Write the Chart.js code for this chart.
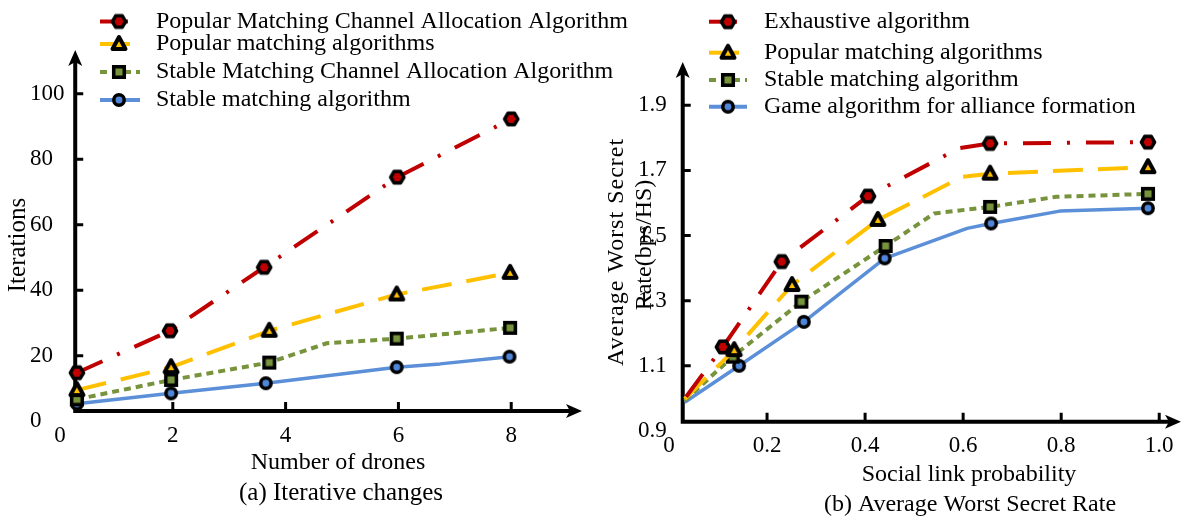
<!DOCTYPE html>
<html>
<head>
<meta charset="utf-8">
<script src="https://cdn.jsdelivr.net/npm/chart.js@4.4.1/dist/chart.umd.min.js"></script>
<style>
  html, body { margin: 0; padding: 0; background: #fff; }
  #wrap { position: relative; width: 1191px; height: 517px; overflow: hidden; background: #fff; }
  #chartA { position: absolute; left: 0; top: 0; }
  #chartB { position: absolute; left: 600px; top: 0; }
</style>
</head>
<body>
<div id="wrap">
  <canvas id="chartA" width="660" height="517" style="width:660px;height:517px"></canvas>
  <canvas id="chartB" width="591" height="517" style="width:591px;height:517px"></canvas>
</div>
<script>
// ---------- (a) Iterative changes: iterations vs number of drones ----------
const namesA = [
  'Popular Matching Channel Allocation Algorithm',
  'Popular matching algorithms',
  'Stable Matching Channel Allocation Algorithm',
  'Stable matching algorithm'
];
const dronesTicks = [0, 2, 4, 6, 8];
const dronesTickLabels = ['0', '2', '4', '6', '8'];
const iterTicks = [0, 20, 40, 60, 80, 100];
const iterTickLabels = ['0', '20', '40', '60', '80', '100'];

const pmcaDrones = [0.3, 1.95, 3.62, 5.98, 8.0];
const pmcaIter   = [14.8, 27.6, 47.0, 74.5, 92.3];
const pmcaShown  = [1, 1, 1, 1, 1];

const pmDrones = [0.3, 1.97, 3.71, 5.97, 7.98];
const pmIter   = [9.5, 16.5, 27.6, 38.7, 45.3];
const pmShown  = [1, 1, 1, 1, 1];

const smcaDrones = [0.3, 1.97, 3.71, 4.73, 5.97, 7.98];
const smcaIter   = [6.7, 12.6, 17.9, 23.8, 25.2, 28.5];
const smcaShown  = [1, 1, 1, 0, 1, 1];

const smDrones = [0.3, 1.97, 3.65, 5.97, 6.74, 7.97];
const smIter   = [5.3, 8.5, 11.6, 16.5, 17.5, 19.7];
const smShown  = [1, 1, 1, 1, 0, 1];

// ---------- (b) Average worst secret rate vs social link probability ----------
const namesB = [
  'Exhaustive algorithm',
  'Popular matching algorithms',
  'Stable matching algorithm',
  'Game algorithm for alliance formation'
];
const probTicks = [0, 0.2, 0.4, 0.6, 0.8, 1.0];
const probTickLabels = ['0', '0.2', '0.4', '0.6', '0.8', '1.0'];
const rateTicks = [0.9, 1.1, 1.3, 1.5, 1.7, 1.9];
const rateTickLabels = ['0.9', '1.1', '1.3', '1.5', '1.7', '1.9'];

const exProb  = [0.035, 0.11, 0.23, 0.406, 0.591, 0.655, 0.977];
const exRate  = [1.005, 1.158, 1.42, 1.621, 1.768, 1.783, 1.787];
const exShown = [0, 1, 1, 1, 0, 1, 1];

const popProb  = [0.032, 0.133, 0.251, 0.426, 0.598, 0.655, 0.977];
const popRate  = [0.998, 1.148, 1.348, 1.548, 1.68, 1.69, 1.71];
const popShown = [0, 1, 1, 1, 0, 1, 1];

const stProb  = [0.032, 0.13, 0.27, 0.442, 0.541, 0.655, 0.79, 0.977];
const stRate  = [0.993, 1.128, 1.297, 1.468, 1.568, 1.588, 1.619, 1.628];
const stShown = [0, 1, 1, 1, 0, 1, 0, 1];

const gameProb  = [0.032, 0.143, 0.275, 0.44, 0.608, 0.657, 0.797, 0.977];
const gameRate  = [0.988, 1.1, 1.235, 1.43, 1.522, 1.537, 1.575, 1.584];
const gameShown = [0, 1, 1, 1, 0, 1, 0, 1];

// ---------- styling ----------
const SERIF = '"Liberation Serif", "Times New Roman", serif';
const TICK_SIZE = 23;
const RED = '#C00000', YELLOW = '#FFC000', GREEN = '#77933C', BLUE = '#5B8FD8';
const DASH_RED = [28, 16, 3, 16], DASH_YELLOW = [30, 15], DASH_GREEN = [7, 5];

function makeMarker(shape, fill) {
  const c = document.createElement('canvas');
  c.width = 24; c.height = 24;
  const g = c.getContext('2d');
  g.translate(12, 12);
  g.strokeStyle = '#000';
  g.fillStyle = fill;
  g.lineWidth = 3.5;
  g.lineJoin = 'round';
  g.beginPath();
  if (shape === 'hex') {
    for (let i = 0; i < 6; i++) {
      const a = Math.PI / 3 * i;
      g.lineTo(6.6 * Math.cos(a), 6.6 * Math.sin(a));
    }
    g.closePath();
  } else if (shape === 'tri') {
    g.lineWidth = 4;
    g.moveTo(0, -7); g.lineTo(6.5, 5); g.lineTo(-6.5, 5); g.closePath();
  } else if (shape === 'sq') {
    g.lineJoin = 'miter';
    g.rect(-5.3, -5.3, 10.6, 10.6);
  } else {
    g.arc(0, 0, 5.2, 0, Math.PI * 2);
  }
  g.fill();
  g.stroke();
  return c;
}
const mkHex = makeMarker('hex', RED);
const mkTri = makeMarker('tri', YELLOW);
const mkSq = makeMarker('sq', GREEN);
const mkCirc = makeMarker('circ', '#4F86D9');

function pts(xs, ys) { return xs.map((x, i) => ({ x: x, y: ys[i] })); }

function series(label, xs, ys, shown, color, dash, marker, width) {
  return {
    label: label,
    data: pts(xs, ys),
    borderColor: color,
    backgroundColor: color,
    borderWidth: width || 4,
    borderDash: dash,
    borderCapStyle: 'butt',
    borderJoinStyle: 'round',
    pointStyle: marker,
    pointRadius: shown.map(s => (s ? 6 : 0)),
    pointHoverRadius: 0,
    pointHitRadius: 0,
    tension: 0,
    fill: false,
    clip: false
  };
}

// axis lines with arrowheads and inward tick marks, crossing at given values
function axesPlugin(cross) {
  return {
    id: 'arrowAxes',
    beforeDatasetsDraw(chart) {
      const { ctx, chartArea: a, scales: { x, y } } = chart;
      const ox = x.getPixelForValue(cross.x);
      const oy = y.getPixelForValue(cross.y);
      ctx.save();
      ctx.strokeStyle = '#000';
      ctx.fillStyle = '#000';
      ctx.lineWidth = 4;
      ctx.beginPath();
      ctx.moveTo(ox, oy + 2); ctx.lineTo(ox, a.top + 12);
      ctx.moveTo(ox - 2, oy); ctx.lineTo(a.right - 12, oy);
      ctx.stroke();
      ctx.beginPath();
      ctx.moveTo(ox, a.top); ctx.lineTo(ox - 7, a.top + 16); ctx.lineTo(ox, a.top + 12); ctx.lineTo(ox + 7, a.top + 16);
      ctx.closePath(); ctx.fill();
      ctx.beginPath();
      ctx.moveTo(a.right, oy); ctx.lineTo(a.right - 16, oy - 7); ctx.lineTo(a.right - 12, oy); ctx.lineTo(a.right - 16, oy + 7);
      ctx.closePath(); ctx.fill();
      ctx.lineWidth = 3;
      ctx.beginPath();
      x.ticks.forEach(t => {
        if (t.value <= cross.x) return;
        const px = x.getPixelForValue(t.value);
        ctx.moveTo(px, oy); ctx.lineTo(px, oy - 9);
      });
      y.ticks.forEach(t => {
        if (t.value <= cross.y) return;
        const py = y.getPixelForValue(t.value);
        ctx.moveTo(ox, py); ctx.lineTo(ox + 8, py);
      });
      ctx.stroke();
      ctx.restore();
    }
  };
}

// value-axis labels, legend rows (line sample + marker + name) and axis titles
function textPlugin(spec) {
  return {
    id: 'labelsAndLegend',
    afterDraw(chart) {
      const ctx = chart.ctx;
      const y = chart.scales.y;
      ctx.save();
      ctx.fillStyle = '#000';
      ctx.textBaseline = 'middle';
      ctx.textAlign = 'left';
      ctx.font = TICK_SIZE + 'px ' + SERIF;
      y.ticks.forEach((t, i) => {
        ctx.fillText(spec.yLabels[i], spec.yLabelX, y.getPixelForValue(t.value));
      });
      chart.data.datasets.forEach((ds, i) => {
        const ry = spec.legend.rows[i];
        ctx.save();
        ctx.strokeStyle = ds.borderColor;
        ctx.lineWidth = 4;
        ctx.setLineDash(ds.borderDash || []);
        ctx.beginPath();
        ctx.moveTo(spec.legend.x1, ry); ctx.lineTo(spec.legend.x2, ry);
        ctx.stroke();
        ctx.restore();
        const m = ds.pointStyle;
        ctx.drawImage(m, spec.legend.mx - m.width / 2, ry - m.height / 2);
        ctx.font = '24px ' + SERIF;
        ctx.textAlign = 'left';
        ctx.fillText(ds.label, spec.legend.tx, ry);
      });
      spec.titles.forEach(t => {
        ctx.save();
        ctx.font = t.size + 'px ' + SERIF;
        if (t.spacing) ctx.letterSpacing = t.spacing + 'px';
        ctx.textAlign = 'center';
        ctx.translate(t.x, t.y);
        if (t.rot) ctx.rotate(-Math.PI / 2);
        ctx.fillText(t.text, 0, 0);
        ctx.restore();
      });
      ctx.restore();
    }
  };
}

function scaleX(min, max, ticks, labels) {
  return {
    type: 'linear', min: min, max: max,
    border: { display: false },
    grid: { display: false, drawTicks: false },
    afterBuildTicks: s => { s.ticks = ticks.map(v => ({ value: v })); },
    afterFit: s => { s.height = 30; },
    ticks: {
      color: '#000', font: { family: SERIF, size: TICK_SIZE }, padding: 1,
      autoSkip: false, maxRotation: 0, minRotation: 0, includeBounds: false,
      callback: (v, i) => labels[i]
    }
  };
}
function scaleY(min, max, ticks) {
  return {
    type: 'linear', min: min, max: max,
    border: { display: false },
    grid: { display: false, drawTicks: false },
    afterBuildTicks: s => { s.ticks = ticks.map(v => ({ value: v })); },
    afterFit: s => { s.width = 30; },
    ticks: { display: false }
  };
}

const common = {
  responsive: false,
  animation: false,
  events: [],
  plugins: { legend: { display: false }, tooltip: { enabled: false }, title: { display: false } }
};

new Chart(document.getElementById('chartA'), {
  type: 'line',
  data: {
    datasets: [
      series(namesA[0], pmcaDrones, pmcaIter, pmcaShown, RED, DASH_RED, mkHex),
      series(namesA[1], pmDrones, pmIter, pmShown, YELLOW, DASH_YELLOW, mkTri),
      series(namesA[2], smcaDrones, smcaIter, smcaShown, GREEN, DASH_GREEN, mkSq),
      series(namesA[3], smDrones, smIter, smShown, BLUE, [], mkCirc, 3.5)
    ]
  },
  options: Object.assign({}, common, {
    layout: { padding: { left: 30, right: 78, top: 50, bottom: 65.8 } },
    scales: {
      x: scaleX(0, 9.255, dronesTicks, dronesTickLabels),
      y: scaleY(0, 113.33, iterTicks)
    }
  }),
  plugins: [
    axesPlugin({ x: 0.27, y: 3.1 }),
    textPlugin({
      yLabels: iterTickLabels, yLabelX: 30,
      legend: { rows: [21.5, 44, 72, 100], x1: 100, x2: 140, mx: 119, tx: 156 },
      titles: [
        { text: 'Iterations', x: 18, y: 245, size: 25, rot: true },
        { text: 'Number of drones', x: 338, y: 463, size: 24 },
        { text: '(a) Iterative changes', x: 341, y: 493, size: 25 }
      ]
    })
  ]
});

new Chart(document.getElementById('chartB'), {
  type: 'line',
  data: {
    datasets: [
      series(namesB[0], exProb, exRate, exShown, RED, DASH_RED, mkHex),
      series(namesB[1], popProb, popRate, popShown, YELLOW, DASH_YELLOW, mkTri),
      series(namesB[2], stProb, stRate, stShown, GREEN, DASH_GREEN, mkSq),
      series(namesB[3], gameProb, gameRate, gameShown, BLUE, [], mkCirc, 3.5)
    ]
  },
  options: Object.assign({}, common, {
    layout: { padding: { left: 39, right: 5, top: 62, bottom: 56.1 } },
    scales: {
      x: scaleX(0, 1.0444, probTicks, probTickLabels),
      y: scaleY(0.9, 2.033, rateTicks)
    }
  }),
  plugins: [
    axesPlugin({ x: 0.028, y: 0.928 }),
    textPlugin({
      yLabels: rateTickLabels, yLabelX: 38,
      legend: { rows: [21.7, 52.7, 80, 106.7], x1: 109, x2: 147, mx: 128, tx: 164 },
      titles: [
        { text: 'Average Worst Secret', x: 17, y: 252, size: 24, rot: true, spacing: 1 },
        { text: 'Rate(bps/HS)', x: 45, y: 245, size: 24, rot: true },
        { text: 'Social link probability', x: 369, y: 475, size: 24 },
        { text: '(b) Average Worst Secret Rate', x: 370, y: 505, size: 24 }
      ]
    })
  ]
});
</script>
</body>
</html>
